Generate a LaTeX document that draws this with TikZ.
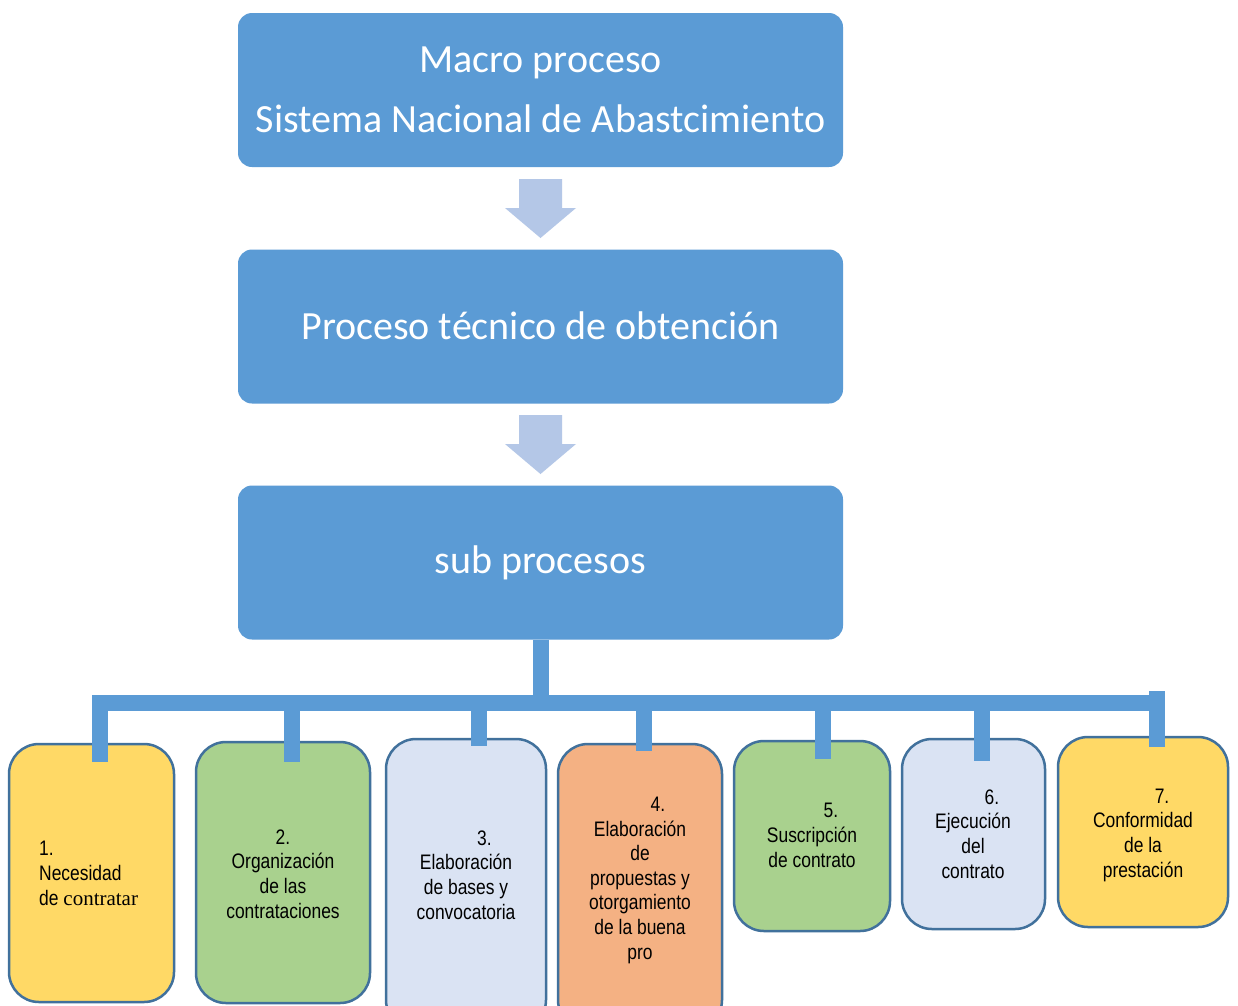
\documentclass[tikz,border=0pt]{standalone}
\usepackage{fontspec}
\newfontfamily\calfont{Carlito}
\newfontfamily\arnar{Liberation Sans}[FakeStretch=0.83]
\newfontfamily\timesf{Liberation Serif}
\definecolor{mblue}{HTML}{5B9BD5}
\definecolor{lblue}{HTML}{B4C7E7}
\definecolor{bordc}{HTML}{41719C}
\definecolor{cyel}{HTML}{FFD966}
\definecolor{cgrn}{HTML}{A9D18E}
\definecolor{clbl}{HTML}{DAE3F3}
\definecolor{corg}{HTML}{F4B183}
\begin{document}
\begin{tikzpicture}[x=1pt,y=-1pt,
  bigbox/.style={fill=mblue, draw=none, rounded corners=14pt, minimum width=605pt, minimum height=154pt, inner sep=0pt},
  subbox/.style={draw=bordc, line width=2.5pt, rounded corners=30pt, inner sep=0pt},
  bigtxt/.style={text=white, font=\calfont\fontsize{40}{48}\selectfont, anchor=base, inner sep=0pt},
  subtxt/.style={font=\arnar\fontsize{21}{24.6}\selectfont, align=center, anchor=base, inner sep=0pt},
  conn/.style={draw=mblue, line width=16pt},
  blockarrow/.style={fill=lblue, draw=none}]
\fill[white] (0,0) rectangle (1238,1005);
\clip (0,0) rectangle (1238,1005);
\useasboundingbox (0,0) rectangle (1238,1005);
% big boxes
\node[bigbox] (A) at (540.5,90) {};
\node[bigbox] (B) at (540.5,326.5) {};
\node[bigbox] (C) at (540.5,562.5) {};
\node[bigtxt] (tA1) at (540.5,72) {Macro proceso};
\node[bigtxt] (tA2) at (540.5,132) {Sistema Nacional de Abastcimiento};
\node[bigtxt] (tB) at (540.5,339) {Proceso técnico de obtención};
\node[bigtxt] (tC) at (540.5,573) {sub procesos};
% block arrows
\fill[blockarrow] (519,179) -- (562,179) -- (562,208) -- (576,208) -- (540.5,238) -- (505,208) -- (519,208) -- cycle;
\fill[blockarrow] (519,415) -- (562,415) -- (562,444) -- (576,444) -- (540.5,474) -- (505,444) -- (519,444) -- cycle;
% sub boxes
\node[subbox, fill=cyel, minimum width=165pt, minimum height=258pt] (b1) at (91.5,873) {};
\node[subbox, fill=cgrn, minimum width=174pt, minimum height=261pt] (b2) at (283,872.5) {};
\node[subbox, fill=clbl, minimum width=160pt, minimum height=291pt] (b3) at (466,884.5) {};
\node[subbox, fill=corg, minimum width=164pt, minimum height=286pt] (b4) at (640,887) {};
\node[subbox, fill=cgrn, minimum width=156pt, minimum height=190pt] (b5) at (812,836) {};
\node[subbox, fill=clbl, minimum width=143pt, minimum height=190pt] (b6) at (973.5,834) {};
\node[subbox, fill=cyel, minimum width=170pt, minimum height=190pt] (b7) at (1143,832) {};
% connectors
\coordinate (bl) at (92,703);
\coordinate (br) at (1150,703);
\coordinate (d1) at (99.5,762);
\coordinate (d2) at (291.5,762);
\coordinate (d3) at (478.5,746);
\coordinate (d4) at (644,751);
\coordinate (d5) at (822.5,759);
\coordinate (d6) at (982,761);
\coordinate (d7) at (1156.5,747);
\coordinate (t7) at (1156.5,691);
\draw[conn] (C.south) -- (C.south |- bl);
\draw[conn] (bl) -- (br);
\draw[conn] (d1 |- bl) -- (d1);
\draw[conn] (d2 |- bl) -- (d2);
\draw[conn] (d3 |- bl) -- (d3);
\draw[conn] (d4 |- bl) -- (d4);
\draw[conn] (d5 |- bl) -- (d5);
\draw[conn] (d6 |- bl) -- (d6);
\draw[conn] (t7) -- (d7);
% sub texts (base = baseline of last line)
\node[subtxt, align=left, anchor=base west] (s1) at (39,905) {1.\\Necesidad\\de {\timesf contratar}};
\node[subtxt] (s2) at (283,918) {2.\\Organización\\de las\\contrataciones};
\node[subtxt] (s3) at (466,919) {\hspace*{37pt}3.\\Elaboración\\de bases y\\convocatoria};
\node[subtxt] (s4) at (640,959) {\hspace*{36pt}4.\\Elaboración\\de\\propuestas y\\otorgamiento\\de la buena\\pro};
\node[subtxt] (s5) at (812,867) {\hspace*{38pt}5.\\Suscripción\\de contrato};
\node[subtxt] (s6) at (973,878) {\hspace*{38pt}6.\\Ejecución\\del\\contrato};
\node[subtxt] (s7) at (1143,877) {\hspace*{38pt}7.\\Conformidad\\de la\\prestación};
\end{tikzpicture}
\end{document}
